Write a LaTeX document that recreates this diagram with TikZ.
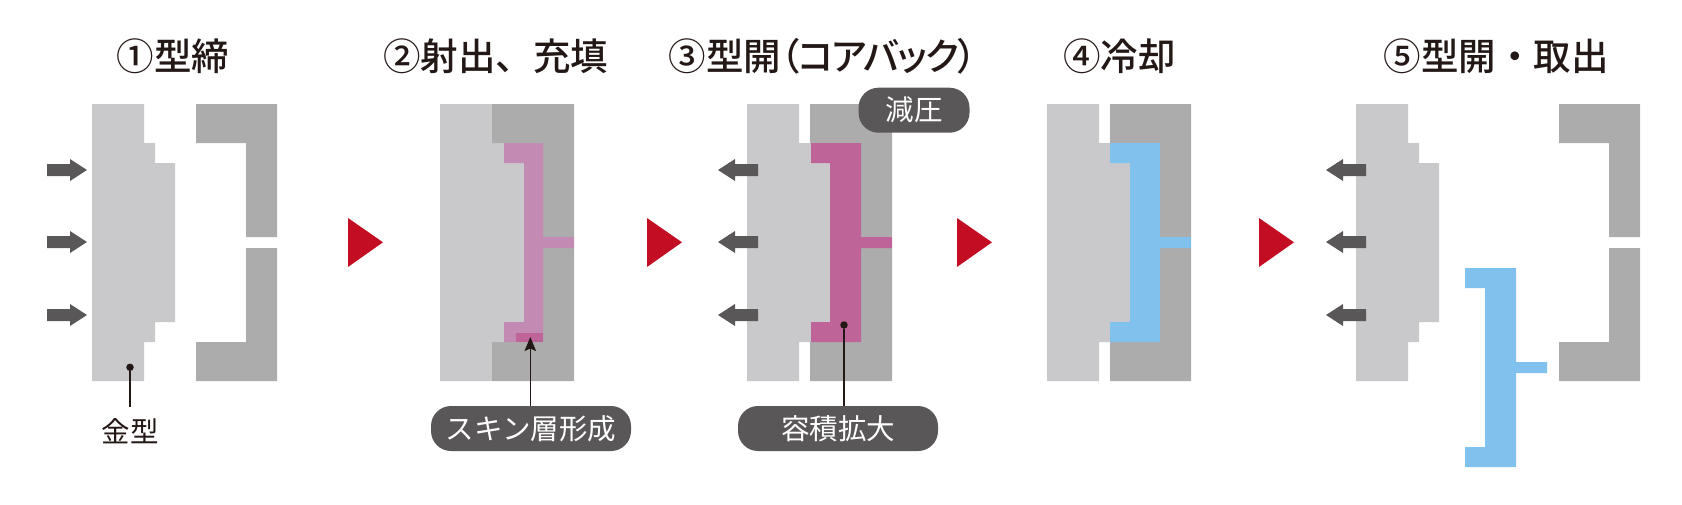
\documentclass[tikz,border=0pt]{standalone}
\usepackage{fontspec}
\usetikzlibrary{arrows.meta}
\newfontfamily\titlefont{Noto Sans CJK JP Medium}
\newfontfamily\titlepalt[RawFeature=+palt,LetterSpace=-4.5]{Noto Sans CJK JP Medium}
\newfontfamily\labelfont{Noto Sans CJK JP}
\definecolor{moldlight}{HTML}{C9C9CB}
\definecolor{molddark}{HTML}{ACACAC}
\definecolor{pressarrow}{HTML}{595757}
\definecolor{pill}{HTML}{5A5758}
\definecolor{flowred}{HTML}{C30D23}
\definecolor{inkdark}{HTML}{231815}
\definecolor{resinlight}{HTML}{C38BB3}
\definecolor{resindark}{HTML}{BE6499}
\definecolor{resinblue}{HTML}{80C1ED}
\tikzset{
  titletext/.style={inner sep=0pt,text=inkdark,font=\titlefont\fontsize{37.5}{42}\selectfont},
  pilltag/.style={fill=pill,text=white,rounded corners=20pt,inner sep=0pt,minimum height=45pt,font=\labelfont\fontsize{28.5}{32}\selectfont},
  plaintag/.style={inner sep=0pt,text=inkdark,font=\labelfont\fontsize{28.5}{32}\selectfont},
  leaderdot/.style={circle,fill=inkdark,inner sep=0pt,minimum size=7.5pt},
  leaderline/.style={draw=inkdark,line width=1.5pt},
  flowmark/.style={fill=flowred},
  closearrow/.pic={\fill[pressarrow] (0,-6)--(23,-6)--(23,-11)--(40,0)--(23,11)--(23,6)--(0,6)--cycle;},
  openarrow/.pic={\fill[pressarrow] (0,-6)--(-23,-6)--(-23,-11)--(-40,0)--(-23,11)--(-23,6)--(0,6)--cycle;}
}
% left mould: #1 left edge, #2 first step x, #3 second step x
\newcommand{\moldleft}[3]{\fill[moldlight] (#1,104)--(#1+52,104)--(#1+52,143)--(#2,143)--(#2,163)--(#3,163)--(#3,322)--(#2,322)--(#2,342)--(#1+52,342)--(#1+52,381)--(#1,381)--cycle;}
% right mould: #1 left edge, #2 inner face, #3 right edge
\newcommand{\moldright}[3]{\fill[molddark] (#1,104)--(#3,104)--(#3,237)--(#2,237)--(#2,143)--(#1,143)--cycle (#1,381)--(#3,381)--(#3,248)--(#2,248)--(#2,342)--(#1,342)--cycle;}
% resin: #1 left, #2 notch, #3 right, #4 sprue end, #5 vertical shift, #6 colour
\newcommand{\resin}[6]{\fill[#6] (#1,143+#5)--(#3,143+#5)--(#3,237+#5)--(#4,237+#5)--(#4,248+#5)--(#3,248+#5)--(#3,342+#5)--(#1,342+#5)--(#1,322+#5)--(#2,322+#5)--(#2,163+#5)--(#1,163+#5)--cycle;}
\begin{document}
\begin{tikzpicture}[x=1pt,y=-1pt]
\useasboundingbox (0,0) rectangle (1682,504);
% titles
\node[titletext] (t1) at (173,56) {①型締};
\node[titletext] (t2) at (495.5,56) {②射出、充填};
\node[titletext] (t3) at (822.5,56) {③型開{\titlepalt（コアバック）}};
\node[titletext] (t4) at (1119.5,56) {④冷却};
\node[titletext] (t5) at (1496,56) {⑤型開・取出};
% panel 1
\moldleft{92}{155}{175}
\moldright{196}{246}{277}
\foreach \yy in {170,242,315}{\pic at (47,\yy) {closearrow};}
\node[leaderdot] (d1) at (130,367.3) {};
\node[plaintag] (l1) at (130,431) {金型};
\coordinate (l1top) at (130,407);
\draw[leaderline] (d1) -- (l1top);
% panel 2
\moldleft{440}{504}{524}
\moldright{492}{543}{574}
\resin{504}{524}{543}{574}{0}{resinlight}
\fill[resindark] (516,333) rectangle (543,342);
\node[pilltag,minimum width=200pt] (p2) at (531,428.5) {スキン層形成};
\coordinate (skin) at (530.3,337);
\draw[leaderline,-{Stealth[length=14pt,width=11.5pt,inset=2.5pt]}] (p2.north -| skin) -- (skin);
% panel 3
\moldleft{747}{811}{830}
\moldright{810}{861}{892}
\resin{811}{830}{861}{892}{0}{resindark}
\foreach \yy in {170,242,315}{\pic at (758,\yy) {openarrow};}
\node[pilltag,minimum width=111pt] (p3a) at (914,110.2) {減圧};
\node[leaderdot] (d3) at (844,325) {};
\node[pilltag,minimum width=200pt] (p3b) at (838,428.5) {容積拡大};
\draw[leaderline] (d3) -- (d3 |- p3b.north);
% panel 4
\moldleft{1047}{1110}{1130}
\moldright{1110}{1160}{1191}
\resin{1110}{1130}{1160}{1191}{0}{resinblue}
% panel 5
\moldleft{1356}{1419}{1439}
\moldright{1559}{1609}{1640}
\resin{1465}{1485}{1516}{1547}{125}{resinblue}
\foreach \yy in {170,242,315}{\pic at (1366,\yy) {openarrow};}
% flow marks
\foreach \xx in {348,647,957,1259}{\fill[flowmark] (\xx,218)--(\xx+35,242.3)--(\xx,267)--cycle;}
\end{tikzpicture}
\end{document}
